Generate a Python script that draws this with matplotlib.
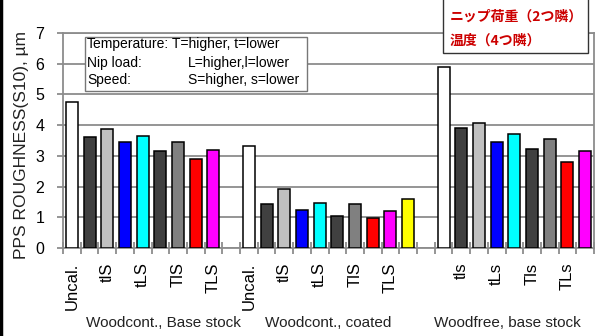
import numpy as np
import matplotlib
matplotlib.use("Agg")
import matplotlib.pyplot as plt
from matplotlib.patches import Rectangle
from matplotlib.lines import Line2D

plt.rcParams['font.family'] = ['Liberation Sans', 'DejaVu Sans']

# one slot per category, empty slots have no bar
labels = ["Uncal.", "tls", "tlS", "tLs", "tLS", "Tls", "TlS", "TLs", "TLS", "",
          "Uncal.", "tls", "tlS", "tLs", "tLS", "Tls", "TlS", "TLs", "TLS", "TLS*",
          "", "Uncal.", "tls", "tlS", "tLs", "tLS", "Tls", "TlS", "TLs", "TLS"]
values = [4.74, 3.60, 3.86, 3.44, 3.64, 3.15, 3.44, 2.89, 3.18, np.nan,
          3.31, 1.43, 1.92, 1.23, 1.46, 1.04, 1.43, 0.97, 1.20, 1.59,
          np.nan, 5.88, 3.90, 4.06, 3.44, 3.70, 3.21, 3.54, 2.79, 3.15]
groups = ["Woodcont., Base stock", "Woodcont., coated", "Woodfree, base stock"]
group_x = [5.2, 14.5, 24.6]

colors = {"Uncal.": "#ffffff", "tls": "#404040", "tlS": "#c0c0c0", "tLs": "#0000ff",
          "tLS": "#00ffff", "Tls": "#404040", "TlS": "#808080", "TLs": "#ff0000",
          "TLS": "#ff00ff", "TLS*": "#ffff00", "": "#ffffff"}

fig = plt.figure(figsize=(5.97, 3.36), dpi=100)
ax = fig.add_axes([63/597, 88/336, 531/597, 215/336])

x = np.arange(len(labels))
ax.bar(x, values, width=0.68, color=[colors[l] for l in labels],
       edgecolor="black", linewidth=1.1, zorder=3)

gc = "#8c8c8c"
ax.set_xlim(-0.5, len(labels) - 0.5)
ax.set_ylim(0, 7)
ax.set_yticks(range(8))
ax.yaxis.grid(True, color=gc, linewidth=1.3, zorder=0)
for s in ax.spines.values():
    s.set_color(gc)
    s.set_linewidth(1.3)

ax.set_xticks(x[::2])
ax.set_xticklabels(labels[::2], rotation=90, fontsize=12, va="top")
ax.set_xticks(np.arange(-0.5, len(labels)), minor=True)
ax.tick_params(axis="x", which="major", length=0, pad=10.5)
ax.tick_params(axis="x", which="minor", direction="inout", length=8, color=gc, width=1.3)
ax.tick_params(axis="y", direction="out", length=4.5, color=gc, width=1.3,
               labelsize=11.5, pad=9)

fig.text(22/597, 1 - 145/336, "PPS ROUGHNESS(S10), µm", rotation=90,
         ha="center", va="center", fontsize=12.5, color="#222222")

for gx, g in zip(group_x, groups):
    ax.text(gx, 0, g, transform=ax.get_xaxis_transform(), ha="center", va="center",
            fontsize=11, color="#222222")
for t in ax.texts:
    t.set_y(-(323 - 248) / 215)

# legend box
fig.patches.append(Rectangle((85/597, 1 - 91/336), 222/597, 54/336,
                             transform=fig.transFigure, facecolor="white",
                             edgecolor="#777777", linewidth=1.0, zorder=5))
rows = [("Temperature:", "T=higher, t=lower", 172),
        ("Nip load:", "L=higher,l=lower", 188),
        ("Speed:", "S=higher, s=lower", 188)]
for (a, b, bx), yy in zip(rows, [44, 63, 80]):
    fig.text(87/597, 1 - yy/336, a, fontsize=10, va="center", zorder=6)
    fig.text(bx/597, 1 - yy/336, b, fontsize=10, va="center", zorder=6)

# red note box
fig.patches.append(Rectangle((443/597, 1 - 53/336), 145/597, 60/336,
                             transform=fig.transFigure, facecolor="white",
                             edgecolor="#333333", linewidth=1.0, zorder=5))
for txt, yy in [("ニップ荷重（2つ隣）", 17), ("温度（4つ隣）", 41)]:
    fig.text(450/597, 1 - yy/336, txt, fontsize=10, va="center", color="#cc0000",
             fontweight="bold", family=["Noto Sans CJK JP", "DejaVu Sans"], zorder=6)

# dark edge at left of the picture
fig.add_artist(Line2D([1/597, 1/597], [0, 1], transform=fig.transFigure,
                      color="black", linewidth=2.5))

fig.savefig("out.png", dpi=100)
